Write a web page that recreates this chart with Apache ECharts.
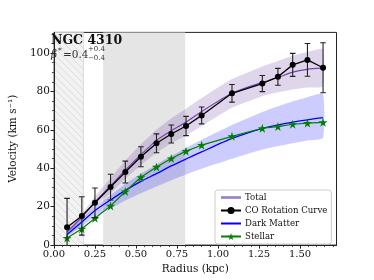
<!DOCTYPE html>
<html><head><meta charset="utf-8">
<script src="https://cdn.jsdelivr.net/npm/echarts@6/dist/echarts.min.js"></script>
<style>html,body{margin:0;padding:0;background:#fff}#c{width:374px;height:280px}</style>
</head><body><div id="c"></div>
<script>
// ---- data ----
const radius   = [0.08,0.17,0.25,0.345,0.435,0.53,0.625,0.715,0.805,0.90,1.085,1.27,1.365,1.455,1.545,1.64];
const velocity = [9.3,15.2,22,30.2,38,46,53,57.8,62,67.5,79,84.1,87.6,93.8,96.4,92.3];
const velErr   = [15,10,7.7,6.7,5.7,5.2,4.9,4.7,5,4.4,4.6,4.2,4.4,6,8.5,13];
const stellar  = [3.7,8.5,14,20.4,27.9,35.3,40.7,45.1,48.9,52,56.6,60.8,61.7,62.9,63.5,63.9];
const darkMatter   = [5.5,12,18,23.5,28.5,33.2,37.2,41.2,44.8,48.5,55.5,60.8,62.6,64,65.2,66.4];
const darkMatterLo = [4.5,9.8,14.6,19,23.2,27,30.5,33.8,36.8,39.8,45,49.8,51.5,53,54.4,55.7];
const darkMatterHi = [6.3,13.5,20.2,26,31.8,37.2,42,46.5,50.6,54.8,62.5,69.3,72.3,74.8,77,78.7];
const total    = [6.8,14.5,22.5,30.8,39,47,54.5,59.5,64,69.5,79,84.7,87.2,90,91.5,92.2];
const totalLo  = [6,12.8,20,27,34.5,41.5,48,53,57,62,71.5,77.5,79.5,81,82,82.6];
const totalHi  = [7.8,16.3,25.3,34.8,44,52.5,60,66,71,76.5,86.4,93,95.8,98.5,100.5,102];
const hatchSpan = [0, 0.18];
const graySpan  = [0.3, 0.8];
const xTicks = [0,0.25,0.5,0.75,1.0,1.25,1.5];
const yTicks = [0,20,40,60,80,100];
const xMinor = []; for (let i=0;i<=34;i++) xMinor.push(+(i*0.05).toFixed(2));
const yMinor = []; for (let i=0;i<=22;i++) yMinor.push(i*5);
const X_MAX = 1.722, Y_MAX = 110.7;

const FONT = '"DejaVu Serif", "Liberation Serif", serif';
const zip = (a,b)=>a.map((v,i)=>[v,b[i]]);

// hatch pattern
const hc = document.createElement('canvas'); hc.width = 7; hc.height = 7;
const hx = hc.getContext('2d');
hx.fillStyle = '#f2f2f2'; hx.fillRect(0,0,7,7);
hx.strokeStyle = '#d2d2d2'; hx.lineWidth = 0.7;
hx.beginPath(); hx.moveTo(-1,-1); hx.lineTo(8,8); hx.moveTo(-1,6); hx.lineTo(1,8); hx.moveTo(6,-1); hx.lineTo(8,1); hx.stroke();

const chart = echarts.init(document.getElementById('c'), null, {renderer:'canvas'});

function spanItem(fill, stroke) {
  return function(params, api) {
    const p0 = api.coord([api.value(0), 0]);
    const p1 = api.coord([api.value(1), 0]);
    const cs = params.coordSys;
    return {type:'rect', shape:{x:p0[0], y:cs.y, width:p1[0]-p0[0], height:cs.height},
      style:{fill: fill, stroke: stroke, lineWidth: stroke ? 0.8 : 0}};
  };
}
function bandItem(lo, hi, fill) {
  return function(params, api) {
    const pts = [];
    for (let i=0;i<radius.length;i++) pts.push(api.coord([radius[i], hi[i]]));
    for (let i=radius.length-1;i>=0;i--) pts.push(api.coord([radius[i], lo[i]]));
    return {type:'polygon', shape:{points:pts, smooth:0.15}, style:{fill:fill}};
  };
}

const starPath = 'path://M50,0 L61.2,34.5 L97.6,34.5 L68.2,55.9 L79.4,90.5 L50,69.1 L20.6,90.5 L31.8,55.9 L2.4,34.5 L38.8,34.5 Z';

const option = {
  animation: false,
  grid: {left:45, right:37.5, top:32.4, bottom:31, show:true, borderColor:'#222', borderWidth:1, backgroundColor:'transparent'},
  xAxis: [{
    type:'value', min:0, max:X_MAX,
    axisLine:{show:true, onZero:false, lineStyle:{color:'#222', width:1}},
    axisTick:{show:true, inside:false, length:3.5, customValues:xTicks, lineStyle:{color:'#222'}},
    axisLabel:{customValues:xTicks, formatter:v=>v.toFixed(2), fontFamily:FONT, fontSize:10, color:'#111', margin:4},
    splitLine:{show:false},
    name:'Radius (kpc)', nameLocation:'middle', nameGap:18,
    nameTextStyle:{fontFamily:FONT, fontSize:10.5, color:'#111'}
  },{
    type:'value', min:0, max:X_MAX, position:'bottom',
    axisLine:{show:false}, axisLabel:{show:false}, splitLine:{show:false},
    axisTick:{show:true, inside:false, length:2, customValues:xMinor, lineStyle:{color:'#222', width:0.8}}
  }],
  yAxis: [{
    type:'value', min:0, max:Y_MAX,
    axisLine:{show:true, onZero:false, lineStyle:{color:'#222', width:1}},
    axisTick:{show:true, inside:false, length:3.5, customValues:yTicks, lineStyle:{color:'#222'}},
    axisLabel:{customValues:yTicks, fontFamily:FONT, fontSize:10.5, color:'#111', margin:4},
    splitLine:{show:false},
    name:'Velocity (km s\u207B\u00B9)', nameLocation:'middle', nameGap:29, nameRotate:90,
    nameTextStyle:{fontFamily:FONT, fontSize:10.5, color:'#111'}
  },{
    type:'value', min:0, max:Y_MAX, position:'left',
    axisLine:{show:false}, axisLabel:{show:false}, splitLine:{show:false},
    axisTick:{show:true, inside:false, length:2, customValues:yMinor, lineStyle:{color:'#222', width:0.8}}
  }],
  legend: {
    orient:'vertical', left:215, top:190, padding:[3,4,3,5], itemGap:4,
    itemWidth:20, itemHeight:9,
    borderColor:'#cccccc', borderWidth:1, borderRadius:3, backgroundColor:'rgba(255,255,255,0.85)',
    textStyle:{fontFamily:FONT, fontSize:8.6, color:'#111', padding:[0,0,0,-1]},
    data:[
      {name:'Total', icon:'path://M0,0 H30 V4 H0 Z', itemStyle:{color:'#9a7fcb'}},
      {name:'CO Rotation Curve'},
      {name:'Dark Matter', icon:'path://M0,0 H30 V3 H0 Z', itemStyle:{color:'#0000ff'}},
      {name:'Stellar'}
    ]
  },
  series: [
    {type:'custom', name:'hatch', z:0, silent:true,
     renderItem: spanItem({image:hc, repeat:'repeat'}, '#d6d6d6'), data:[hatchSpan]},
    {type:'custom', name:'gray', z:0, silent:true,
     renderItem: spanItem('#e5e5e5', null), data:[graySpan]},
    {type:'custom', name:'totBand', z:1, silent:true,
     renderItem: bandItem(totalLo, totalHi, 'rgba(102,51,153,0.2)'), data:[[radius[0], totalLo[0]]]},
    {type:'custom', name:'dmBand', z:1, silent:true,
     renderItem: bandItem(darkMatterLo, darkMatterHi, 'rgba(0,0,255,0.2)'), data:[[radius[0], darkMatterLo[0]]]},
    {type:'line', name:'Total', data:zip(radius,total), symbol:'none', smooth:0.2,
     lineStyle:{color:'#7445b0', width:1.2}, itemStyle:{color:'#7445b0'}, z:3},
    {type:'line', name:'Dark Matter', data:zip(radius,darkMatter), symbol:'none', smooth:0.2,
     lineStyle:{color:'#0000ff', width:1.3}, itemStyle:{color:'#0000ff'}, z:3},
    {type:'line', name:'Stellar', data:zip(radius,stellar), symbol:starPath, symbolSize:9,
     lineStyle:{color:'#008000', width:1.2}, itemStyle:{color:'#008000'}, z:4},
    {type:'custom', name:'err', clip:true, z:5, silent:true,
     renderItem:function(params, api){
       const x=api.value(0), y=api.value(1), e=api.value(2);
       const t=api.coord([x,y+e]), b=api.coord([x,y-e]);
       const st={stroke:'#222', lineWidth:1.1};
       return {type:'group', children:[
         {type:'line', shape:{x1:t[0],y1:t[1],x2:b[0],y2:b[1]}, style:st},
         {type:'line', shape:{x1:t[0]-2.8,y1:t[1],x2:t[0]+2.8,y2:t[1]}, style:st},
         {type:'line', shape:{x1:b[0]-2.8,y1:b[1],x2:b[0]+2.8,y2:b[1]}, style:st}
       ]};
     },
     data: radius.map((r,i)=>[r, velocity[i], velErr[i]])},
    {type:'line', name:'CO Rotation Curve', data:zip(radius,velocity), symbol:'circle', symbolSize:6,
     lineStyle:{color:'#000', width:1.3}, itemStyle:{color:'#000'}, z:6}
  ],
  graphic: [
    {type:'text', x:51, y:34, z:100, style:{text:'NGC 4310', font:'bold 12.5px '+FONT, fill:'#111'}},
    {type:'text', x:51, y:49.5, z:100, style:{text:'\u03B2', font:'italic 10.5px '+FONT, fill:'#333'}},
    {type:'text', x:58, y:47, z:100, style:{text:'*', font:'7.5px '+FONT, fill:'#333'}},
    {type:'text', x:63, y:49.5, z:100, style:{text:'=0.4', font:'10.5px '+FONT, fill:'#333'}},
    {type:'text', x:88, y:45.5, z:100, style:{text:'+0.4', font:'7px '+FONT, fill:'#333'}},
    {type:'text', x:88, y:55, z:100, style:{text:'\u22120.4', font:'7px '+FONT, fill:'#333'}}
  ]
};
chart.setOption(option);
</script></body></html>
